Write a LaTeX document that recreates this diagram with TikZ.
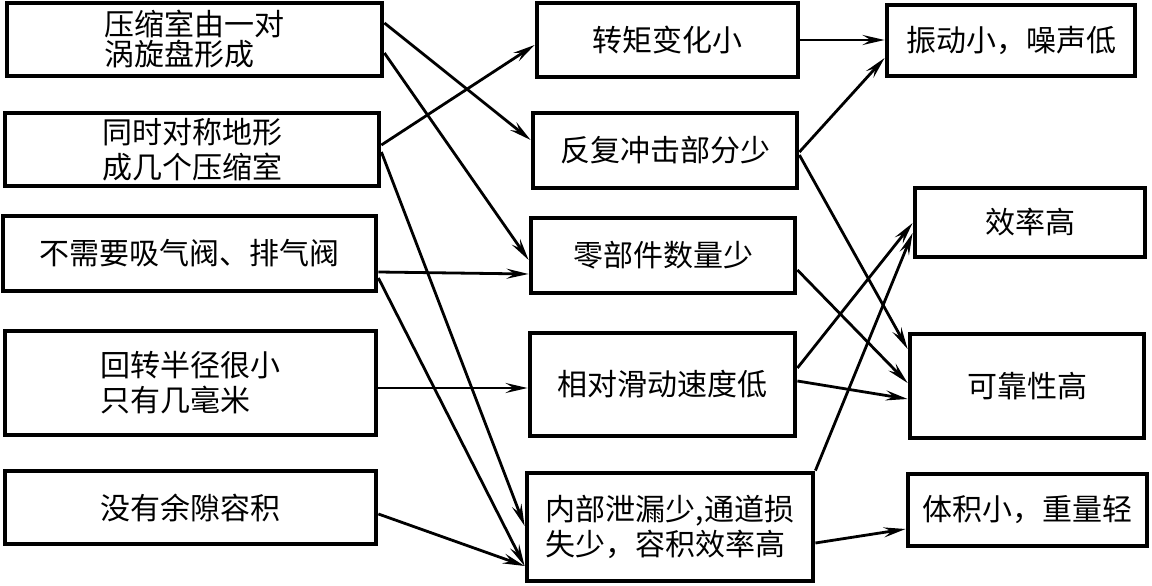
\documentclass[tikz,border=0pt]{standalone}
\usepackage{fontspec}
\newfontfamily\cjk{Noto Sans CJK SC}
\usetikzlibrary{arrows.meta}
\tikzset{
  box/.style={draw=black, line width=4.8pt, rectangle, inner sep=0pt, align=left,
    font=\cjk\fontsize{30}{35}\selectfont},
  conn/.style={line width=2.8pt, -{Stealth[length=22pt,width=10pt,inset=8pt]}},
}
\begin{document}
\begin{tikzpicture}[x=1pt,y=-1pt]
\useasboundingbox (0,0) rectangle (1152,586);
% left column
\node[box, minimum width=375pt, minimum height=73pt] (L1) at (194.5,39.5) {压缩室由一对\\[-5pt]涡旋盘形成};
\node[box, minimum width=374pt, minimum height=73pt] (L2) at (192,149.5) {同时对称地形\\成几个压缩室};
\node[box, minimum width=373pt, minimum height=75pt] (L3) at (189.5,253.5) {不需要吸气阀、排气阀};
\node[box, minimum width=371pt, minimum height=104pt] (L4) at (190.5,383) {回转半径很小\\只有几毫米};
\node[box, minimum width=371pt, minimum height=73pt] (L5) at (190.5,507.5) {没有余隙容积};
% middle column
\node[box, minimum width=261pt, minimum height=74pt] (M1) at (667.5,40) {转矩变化小};
\node[box, minimum width=264pt, minimum height=75pt] (M2) at (665,150.5) {反复冲击部分少};
\node[box, minimum width=264pt, minimum height=75pt] (M3) at (663,255.5) {零部件数量少};
\node[box, minimum width=265pt, minimum height=103pt] (M4) at (662.5,384.5) {相对滑动速度低};
\node[box, minimum width=286pt, minimum height=108pt] (M5) at (670,527) {内部泄漏少,通道损\\失少，容积效率高};
% right column
\node[box, minimum width=248pt, minimum height=71pt] (R1) at (1011,40.5) {振动小，噪声低};
\node[box, minimum width=230pt, minimum height=69pt] (R2) at (1030,222.5) {效率高};
\node[box, minimum width=234pt, minimum height=104pt] (R3) at (1027,386) {可靠性高};
\node[box, minimum width=239pt, minimum height=72pt] (R4) at (1027.5,510) {体积小，重量轻};
% connectors left -> middle
\draw[conn] ([yshift=16.5pt]L1.east) -- ([yshift=10.5pt]M2.west);
\draw[conn] ([yshift=-13.5pt]L1.east) -- ([yshift=-4.5pt]M3.west);
\draw[conn] ([yshift=4.5pt]L2.east) -- ([yshift=-5pt]M1.west);
\draw[conn] ([yshift=-2.5pt]L2.east) -- ([yshift=1pt]M5.west);
\draw[conn] ([yshift=-18.5pt]L3.east) -- ([yshift=-18.5pt]M3.west);
\draw[conn] ([yshift=-24.5pt]L3.east) -- ([yshift=-39pt]M5.west);
\draw[conn] ([yshift=-5pt]L4.east) -- ([yshift=-3.5pt]M4.west);
\draw[conn] ([yshift=-6.5pt]L5.east) -- ([yshift=-39pt]M5.west);
% connectors middle -> right
\draw[conn] (M1.east) -- ([yshift=0.5pt]R1.west);
\draw[conn] ([yshift=-1.5pt]M2.east) -- ([yshift=-17.5pt]R1.west);
\draw[conn] ([yshift=-4.5pt]M2.east) -- ([yshift=37pt]R3.west);
\draw[conn] ([yshift=-14.5pt]M3.east) -- ([yshift=3pt]R3.west);
\draw[conn] ([yshift=16.5pt]M4.east) -- ([yshift=-0.5pt]R2.west);
\draw[conn] ([yshift=3.5pt]M4.east) -- ([yshift=-13pt]R3.west);
\draw[conn] (M5.north east) -- ([yshift=-10.5pt]R2.west);
\draw[conn] ([yshift=-16pt]M5.east) -- ([yshift=-19pt]R4.west);
\end{tikzpicture}
\end{document}
